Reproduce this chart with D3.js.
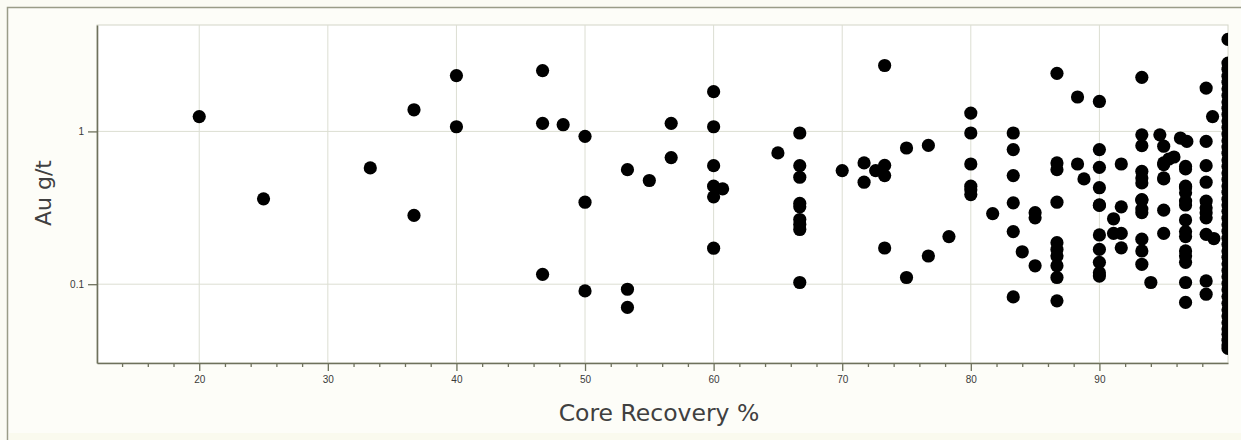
<!DOCTYPE html>
<html>
<head>
<meta charset="utf-8">
<script src="https://cdn.jsdelivr.net/npm/d3@7"></script>
<style>
  body { margin: 0; background: #fbfbf4; }
  svg { display: block; }
</style>
</head>
<body>
<div id="chart"></div>
<script>
// core recovery (%) and gold grade (g/t)
var recovery = [
  20, 25, 33.3, 36.7, 36.7, 40, 40, 46.7, 46.7, 46.7, 48.3,
  50, 50, 50, 53.3, 53.3, 53.3, 55, 56.7, 56.7,
  60, 60, 60, 60, 60, 60.7, 60, 65,
  66.7, 66.7, 66.7, 66.7, 66.7, 66.7, 66.7, 66.7, 66.7,
  70, 71.7, 71.7, 72.6, 73.3, 73.3, 73.3, 73.3, 75, 75, 76.7, 76.7, 78.3,
  80, 80, 80, 80, 80, 80, 81.7,
  83.3, 83.3, 83.3, 83.3, 83.3, 83.3, 84, 85, 85, 85,
  86.7, 86.7, 86.7, 86.7, 86.7, 86.7, 86.7, 86.7, 86.7, 86.7,
  88.3, 88.3, 88.8,
  90, 90, 90, 90, 90, 90, 90, 90, 90, 90, 90,
  91.1, 91.1, 91.7, 91.7, 91.7, 91.7,
  93.3, 93.3, 93.3, 93.3, 93.3, 93.3, 93.3, 93.3, 93.3, 93.3, 93.3, 93.3, 93.3,
  94, 94.7, 95, 95, 95, 95.4, 95.8, 95, 95, 95, 95,
  96.3, 96.8, 96.7, 96.7, 96.7, 96.7, 96.7, 96.7, 96.7, 96.7, 96.7, 96.7, 96.7, 96.7, 96.7, 96.7, 96.7,
  98.3, 98.8, 98.3, 98.3, 98.3, 98.3, 98.3, 98.3, 98.3, 98.3, 98.9, 98.3, 98.3
];
var grade = [
  1.25, 0.362, 0.577, 1.385, 0.282, 2.32, 1.073, 2.5, 1.13, 0.116, 1.106,
  0.928, 0.344, 0.0904, 0.562, 0.0927, 0.0705, 0.477, 1.13, 0.674,
  1.82, 1.073, 0.597, 0.438, 0.373, 0.421, 0.172, 0.723,
  0.976, 0.597, 0.501, 0.338, 0.321, 0.265, 0.246, 0.228, 0.1026,
  0.554, 0.622, 0.465, 0.554, 0.6, 0.514, 2.7, 0.1725, 0.779, 0.1106, 0.81, 0.153, 0.205,
  1.318, 0.976, 0.612, 0.438, 0.415, 0.386, 0.29,
  0.976, 0.76, 0.514, 0.341, 0.221, 0.0826, 0.163, 0.294, 0.272, 0.132,
  2.4, 0.622, 0.562, 0.344, 0.187, 0.169, 0.153, 0.132, 0.1106, 0.0778,
  1.68, 0.612, 0.489,
  1.57, 0.76, 0.582, 0.428, 0.328, 0.21, 0.169, 0.139, 0.119, 0.113, 0.33,
  0.268, 0.215, 0.612, 0.321, 0.215, 0.173,
  2.26, 0.95, 0.807, 0.548, 0.496, 0.46, 0.355, 0.294, 0.197, 0.165, 0.135, 0.358, 0.31,
  0.1026, 0.95, 0.8, 0.607, 0.489, 0.66, 0.68, 0.305, 0.215, 0.622, 0.496,
  0.905, 0.86, 0.568, 0.59, 0.438, 0.396, 0.35, 0.263, 0.221, 0.205, 0.165, 0.153, 0.139, 0.1026, 0.076, 0.33, 0.428,
  1.92, 1.25, 0.86, 0.597, 0.465, 0.35, 0.316, 0.294, 0.272, 0.212, 0.199, 0.105, 0.086
];
// the 100 % column is so dense it reads as one solid bar
var fullRecovery = [
  4.0, 2.8, 2.55, 2.3, 2.1, 1.9, 1.72, 1.56, 1.42, 1.29, 1.17, 1.06, 0.96,
  0.87, 0.79, 0.72, 0.65, 0.59, 0.535, 0.485, 0.44, 0.4, 0.36, 0.33, 0.3,
  0.27, 0.245, 0.222, 0.2, 0.182, 0.165, 0.15, 0.136, 0.123, 0.112, 0.101,
  0.092, 0.083, 0.075, 0.068, 0.062, 0.056, 0.051, 0.047, 0.043, 0.04, 0.038
];
var xTicks = [20, 30, 40, 50, 60, 70, 80, 90];
var yTicks = [0.1, 1];

var svgWidth = 1241, svgHeight = 440;
var margin = { top: 25, right: 13, bottom: 77, left: 97 };
var chartWidth = svgWidth - margin.left - margin.right;
var chartHeight = svgHeight - margin.top - margin.bottom;

var points = recovery.map((r, i) => ({ x: r, y: grade[i] }));
fullRecovery.forEach(g => points.push({ x: 100, y: g }));

var svg = d3.select("#chart")
  .append("svg")
  .attr("width", svgWidth)
  .attr("height", svgHeight);

// outer frame (runs off the right and bottom edges)
svg.append("rect")
  .attr("x", 7.5).attr("y", 7.5)
  .attr("width", svgWidth + 20).attr("height", svgHeight + 20)
  .attr("fill", "#fdfdf8")
  .attr("stroke", "#9a9c88")
  .attr("stroke-width", 1.5);
svg.append("rect")
  .attr("x", 9).attr("y", 433)
  .attr("width", svgWidth).attr("height", 10)
  .attr("fill", "#fafaee");

var chartGroup = svg.append("g")
  .attr("transform", `translate(${margin.left}, ${margin.top})`);

var xScale = d3.scaleLinear().domain([12.05, 100]).range([0, chartWidth]);
var yScale = d3.scaleLog().domain([0.0305, 4.97]).range([chartHeight, 0]);

chartGroup.append("rect")
  .attr("width", chartWidth).attr("height", chartHeight)
  .attr("fill", "#ffffff")
  .attr("stroke", "#d4d6c8");

// grid
chartGroup.selectAll(".xgrid").data(xTicks).enter().append("line")
  .attr("x1", d => xScale(d)).attr("x2", d => xScale(d))
  .attr("y1", 0).attr("y2", chartHeight)
  .attr("stroke", "#dcded2");
chartGroup.selectAll(".ygrid").data(yTicks).enter().append("line")
  .attr("y1", d => yScale(d)).attr("y2", d => yScale(d))
  .attr("x1", 0).attr("x2", chartWidth)
  .attr("stroke", "#dcded2");

chartGroup.append("clipPath").attr("id", "plotClip")
  .append("rect").attr("width", chartWidth).attr("height", chartHeight);

chartGroup.append("g")
  .attr("clip-path", "url(#plotClip)")
  .selectAll("circle")
  .data(points)
  .enter()
  .append("circle")
  .attr("cx", d => xScale(d.x))
  .attr("cy", d => yScale(d.y))
  .attr("r", 6.6)
  .attr("fill", "#000");

// axes
var minorTicks = d3.range(14, 100, 2).filter(d => d % 10 !== 0);
var xAxis = chartGroup.append("g")
  .attr("transform", `translate(0, ${chartHeight})`)
  .call(d3.axisBottom(xScale).tickValues(xTicks).tickSize(8).tickSizeOuter(0).tickPadding(5));
chartGroup.append("g")
  .attr("transform", `translate(0, ${chartHeight})`)
  .call(d3.axisBottom(xScale).tickValues(minorTicks).tickSize(4).tickSizeOuter(0).tickFormat(""))
  .call(g => g.select(".domain").remove());
var yAxis = chartGroup.append("g")
  .call(d3.axisLeft(yScale).tickValues(yTicks).tickFormat(d3.format("")).tickSize(9).tickSizeOuter(0).tickPadding(4));

chartGroup.selectAll(".domain").attr("stroke", "#6e715c").attr("stroke-width", 1.6);
chartGroup.selectAll(".tick line").attr("stroke", "#6e715c").attr("stroke-width", 1.3);
chartGroup.selectAll(".tick text")
  .attr("fill", "#3a3a3a")
  .style("font-family", "'Liberation Sans', Arial, sans-serif")
  .style("font-size", "10px");

// axis titles
svg.append("text")
  .attr("transform", "translate(51, 193) rotate(-90)")
  .attr("text-anchor", "middle")
  .attr("fill", "#404040")
  .style("font-family", "'DejaVu Sans', Verdana, sans-serif")
  .style("font-size", "22px")
  .text("Au g/t");

svg.append("text")
  .attr("x", 659).attr("y", 421)
  .attr("text-anchor", "middle")
  .attr("fill", "#404040")
  .style("font-family", "'DejaVu Sans', Verdana, sans-serif")
  .style("font-size", "23.5px")
  .text("Core Recovery %");
</script>
</body>
</html>
